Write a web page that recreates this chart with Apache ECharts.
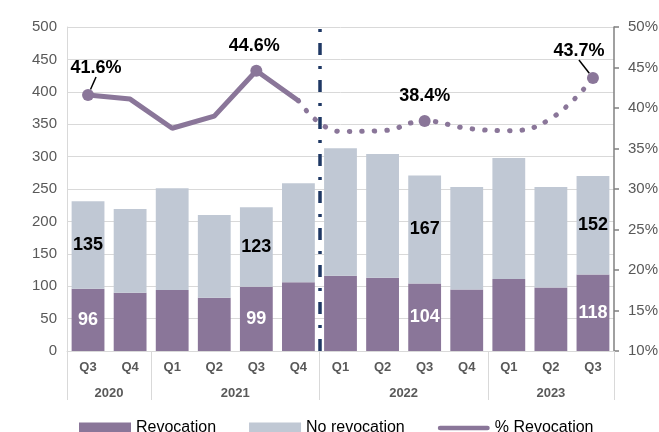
<!DOCTYPE html>
<html>
<head>
<meta charset="utf-8">
<script src="https://cdn.jsdelivr.net/npm/echarts@6/dist/echarts.min.js"></script>
<style>html,body{margin:0;padding:0;background:#fff;}#c{width:659px;height:432px;}</style>
</head>
<body>
<div id="c"></div>
<script>
const categories = ['Q3','Q4','Q1','Q2','Q3','Q4','Q1','Q2','Q3','Q4','Q1','Q2','Q3'];
const years = ['2020','2021','2022','2023'];
const quartersPerYear = [2,4,4,3];
const revocation = [96,90,94,82,99,106,116,113,104,95,111,98,118];
const noRevocation = [135,129,157,128,123,153,197,191,167,158,187,155,152];
const pctRevocation = [41.6,41.1,37.5,39.0,44.6,40.9,37.1,37.2,38.4,37.5,37.2,38.7,43.7];
const labelledIdx = [0,4,8,12];
const leaderIdx = [0,12];
const splitIdx = 6; // projection starts (2022 Q1)
const leftTicks = {min:0, max:500, interval:50};
const rightTicks = {min:10, max:50, interval:5};

const PURPLE = '#8a7699', GREY = '#c0c8d4', TXT = '#595959';
const FONT = 'Liberation Sans, Arial, sans-serif';

// year axis: half-category slots
const nSlots = categories.length * 2 + 1;
const slotNames = Array.from({length:nSlots}, (_, i) => String(i));
const yearAt = {}; const boundaries = [0];
let cum = 0;
quartersPerYear.forEach((q, i) => { yearAt[cum*2 + q] = years[i]; cum += q; boundaries.push(cum*2); });

const solidData = pctRevocation.map((v, i) => i < splitIdx ? v : null);
const dottedData = pctRevocation.map((v, i) => i >= splitIdx - 1 ? v : null);
const mkPt = (arr) => arr.map((v, i) => v == null ? null :
  (labelledIdx.includes(i) ? {value: v, symbol: 'circle', symbolSize: 12,
    label: {show: true}, labelLine: {show: leaderIdx.includes(i)}} : {value: v, symbol: 'none'}));

const labelShift = {0: [8, -2], 4: [-2, 0], 8: [0, 0], 12: [-14, -2]};

const chart = echarts.init(document.getElementById('c'));
chart.setOption({
  animation: false,
  textStyle: {fontFamily: FONT},
  grid: {left: 67, right: 45, top: 27, bottom: 81, containLabel: false, outerBoundsMode: 'none'},
  legend: {
    top: 415, left: 74, itemWidth: 52, itemHeight: 11, itemGap: 33,
    textStyle: {fontSize: 16, color: '#000', fontFamily: FONT},
    data: [{name: 'Revocation', icon: 'rect'}, {name: 'No revocation', icon: 'rect'},
           {name: '% Revocation', icon: 'path://M2.5,0 H52.5 A2.5,2.5 0 0 1 52.5,5 H2.5 A2.5,2.5 0 0 1 2.5,0 Z'}]
  },
  xAxis: [{
    type: 'category', data: categories, position: 'bottom',
    axisLine: {lineStyle: {color: '#d9d9d9'}},
    axisTick: {show: false},
    axisLabel: {fontSize: 13, fontWeight: 'bold', color: TXT, margin: 10, interval: 0}
  }, {
    type: 'category', data: slotNames, position: 'bottom', boundaryGap: false,
    axisLine: {show: false},
    axisTick: {show: true, inside: false, length: 49, interval: (i) => boundaries.includes(i),
      lineStyle: {color: '#d9d9d9', width: 1}},
    axisLabel: {interval: 0, formatter: (v, i) => yearAt[i] || '', fontSize: 13,
      fontWeight: 'bold', color: TXT, margin: 36},
    splitLine: {show: false}
  }],
  yAxis: [{
    type: 'value', min: leftTicks.min, max: leftTicks.max, interval: leftTicks.interval,
    axisLine: {show: true, lineStyle: {color: '#d9d9d9'}},
    axisTick: {show: false},
    splitLine: {lineStyle: {color: '#d9d9d9'}},
    axisLabel: {fontSize: 15, color: TXT, margin: 10}
  }, {
    type: 'value', min: rightTicks.min, max: rightTicks.max, interval: rightTicks.interval,
    position: 'right',
    axisLine: {show: true, lineStyle: {color: '#808080', width: 1.5}},
    axisTick: {show: true, length: 5, lineStyle: {color: '#808080', width: 1.5}},
    splitLine: {show: false},
    axisLabel: {fontSize: 15, color: TXT, margin: 14, formatter: '{value}%'}
  }],
  series: [{
    name: 'Revocation', type: 'bar', stack: 'a', barCategoryGap: '22%',
    itemStyle: {color: PURPLE},
    data: revocation.map((v, i) => labelledIdx.includes(i) ?
      {value: v, label: {show: true, position: 'inside', color: '#fff', fontSize: 18, fontWeight: 'bold'}} : v)
  }, {
    name: 'No revocation', type: 'bar', stack: 'a',
    itemStyle: {color: GREY},
    data: noRevocation.map((v, i) => labelledIdx.includes(i) ?
      {value: v, label: {show: true, position: 'inside', color: '#000', fontSize: 18, fontWeight: 'bold'}} : v)
  }, {
    name: 'projection-divider', type: 'line', xAxisIndex: 1, yAxisIndex: 0, data: [],
    markLine: {symbol: 'none', silent: true, label: {show: false},
      lineStyle: {color: '#1f3864', width: 3.5, type: [12, 11, 3, 11]},
      data: [{xAxis: String(splitIdx * 2)}]}
  }, {
    name: '% Revocation', type: 'line', yAxisIndex: 1, z: 5,
    symbol: 'none', connectNulls: false,
    lineStyle: {color: PURPLE, width: 5},
    itemStyle: {color: PURPLE},
    label: {show: false, position: 'top', distance: 10, fontSize: 18, fontWeight: 'bold', color: '#000',
      formatter: (p) => p.value.toFixed(1) + '%'},
    labelLine: {show: false, lineStyle: {color: '#000', width: 1.5}},
    labelLayout: (p) => { const s = labelShift[p.dataIndex]; return s ? {dx: s[0], dy: s[1]} : {}; },
    data: mkPt(solidData)
  }, {
    name: '% Revocation', type: 'line', yAxisIndex: 1, z: 5,
    symbol: 'none', smooth: 0.45,
    lineStyle: {color: PURPLE, width: 5, type: [0.5, 12], cap: 'round'},
    itemStyle: {color: PURPLE},
    label: {show: false, position: 'top', distance: 10, fontSize: 18, fontWeight: 'bold', color: '#000',
      formatter: (p) => p.value.toFixed(1) + '%'},
    labelLine: {show: false, lineStyle: {color: '#000', width: 1.5}},
    labelLayout: (p) => { const s = labelShift[p.dataIndex]; return s ? {dx: s[0], dy: s[1]} : {}; },
    data: mkPt(dottedData)
  }]
});
</script>
</body>
</html>
